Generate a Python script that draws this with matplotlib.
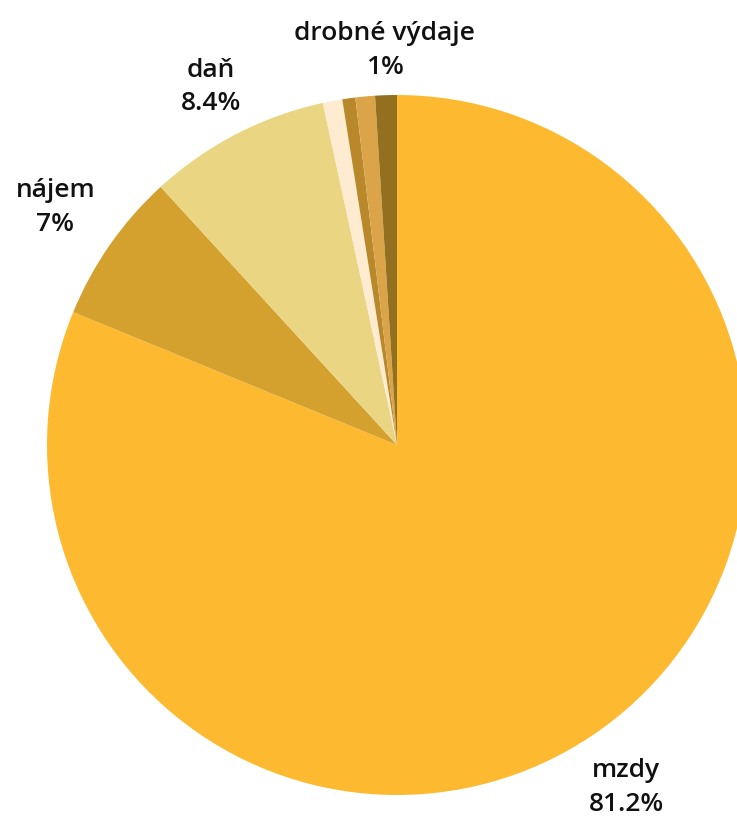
import matplotlib
matplotlib.use("Agg")
import matplotlib.pyplot as plt
import numpy as np

categories = ["mzdy", "nájem", "daň", "ostatní 1", "ostatní 2", "ostatní 3", "drobné výdaje"]
values = [81.2, 7.0, 8.4, 0.9, 0.6, 0.9, 1.0]
pct_labels = ["81.2%", "7%", "8.4%", "", "", "", "1%"]
colors = ["#FDBA31", "#D4A02E", "#E9D582", "#FEEBD0", "#B8882A", "#DBA449", "#93701F"]
label_dist = [1.175, 1.19, 1.155, None, None, None, 1.13]

fig = plt.figure(figsize=(7.37, 8.2), dpi=100)
ax = fig.add_axes([47 / 737, 24 / 820, 700 / 737, 700 / 820])
wedges, _ = ax.pie(values, colors=colors, startangle=90, counterclock=False,
                   radius=1, wedgeprops=dict(linewidth=0))
for w, c, p, d in zip(wedges, categories, pct_labels, label_dist):
    if d is None:
        continue
    ang = np.deg2rad((w.theta1 + w.theta2) / 2)
    ax.text(d * np.cos(ang), d * np.sin(ang), f"{c}\n{p}", ha="center", va="center",
            fontsize=19, family=["Open Sans", "DejaVu Sans"], fontweight="semibold",
            color="#111111", linespacing=1.45)
ax.set_xlim(-1, 1)
ax.set_ylim(-1, 1)
ax.set_aspect("equal")
ax.axis("off")
fig.savefig("out.png", dpi=100)
